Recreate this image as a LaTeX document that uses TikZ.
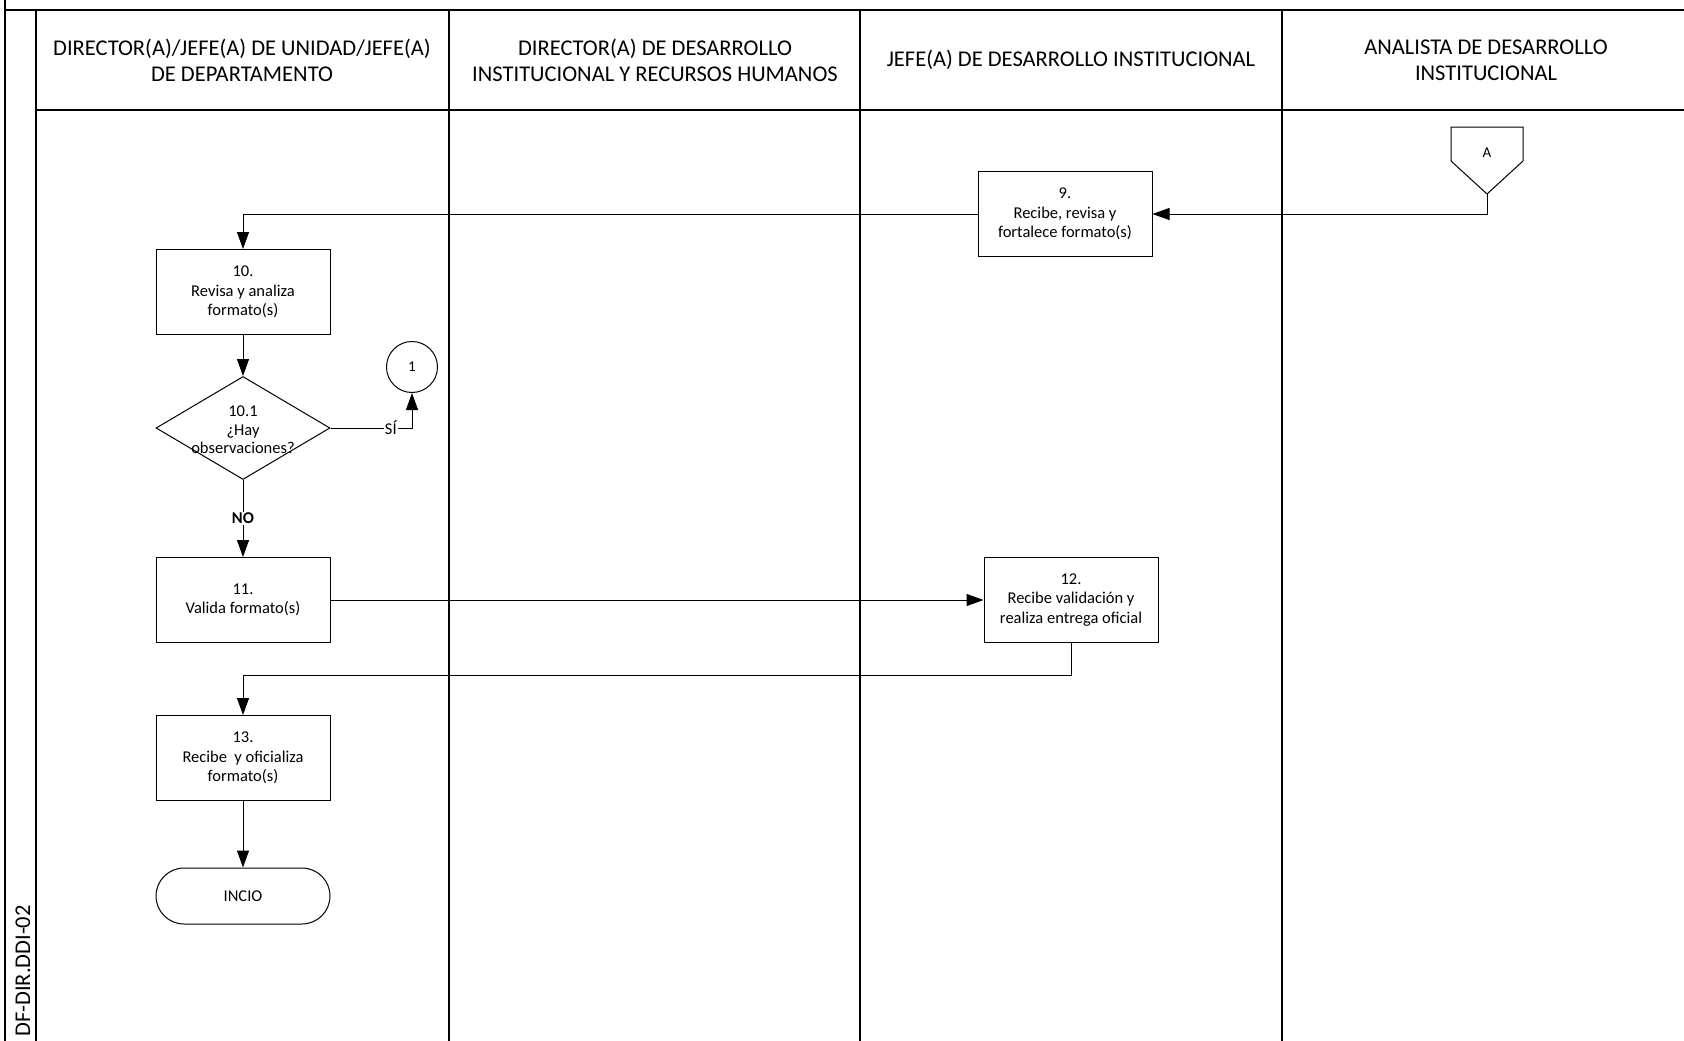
\documentclass[tikz,border=0pt]{standalone}
\usepackage{fontspec}
\setmainfont{Carlito}
\usetikzlibrary{arrows.meta,shapes.geometric,shapes.misc}

\begin{document}
\begin{tikzpicture}[x=1pt,y=-1pt,
  carril/.style={line width=1.4pt},
  encabezado/.style={align=center,font=\fontsize{22.5}{26}\selectfont},
  proceso/.style={draw,line width=1pt,minimum width=174pt,minimum height=85pt,inner sep=0pt,align=center,font=\fontsize{16.5}{19.5}\selectfont},
  decision/.style={draw,diamond,line width=1pt,minimum width=174pt,minimum height=103pt,inner sep=0pt},
  terminal/.style={draw,rounded rectangle,line width=1pt,minimum width=174pt,minimum height=56pt,inner sep=0pt,font=\fontsize{16.5}{18.5}\selectfont},
  conector/.style={draw,circle,line width=1pt,minimum size=51pt,inner sep=0pt,font=\fontsize{15}{18}\selectfont},
  etiqueta/.style={fill=white,inner sep=1pt,font=\fontsize{16.5}{18.5}\selectfont},
  flecha/.style={line width=1pt,-{Triangle[length=17pt,width=12pt]}}]

\useasboundingbox (0,0) rectangle (1684,1041);

% carriles
\draw[carril] (5,0) -- (5,1041);
\draw[carril] (5,10) -- (1684,10);
\draw[carril] (36,10) -- (36,1041);
\draw[carril] (36,110) -- (1684,110);
\foreach \x in {449,860,1282} \draw[carril] (\x,10) -- (\x,1041);

\node[encabezado] (h1) at (242,60) {DIRECTOR(A)/JEFE(A) DE UNIDAD/JEFE(A)\\DE DEPARTAMENTO};
\node[encabezado] (h2) at (655,60) {DIRECTOR(A) DE DESARROLLO\\INSTITUCIONAL Y RECURSOS HUMANOS};
\node[encabezado] (h3) at (1071,60) {JEFE(A) DE DESARROLLO INSTITUCIONAL};
\node[encabezado] (h4) at (1486,60) {ANALISTA DE DESARROLLO\\INSTITUCIONAL};
\node[rotate=90,font=\fontsize{22.5}{26}\selectfont] (clave) at (23,971) {DF-DIR.DDI-02};

% conector fuera de pagina
\draw[line width=1pt] (1451,127) -- (1523,127) -- (1523,161) -- (1487,194) -- (1451,161) -- cycle;
\node[font=\fontsize{15}{18}\selectfont] (A) at (1487,153) {A};
\coordinate (Apunta) at (1487,194);

% actividades
\node[proceso] (p9) at (1065,214) {9.\\Recibe, revisa y\\fortalece formato(s)};
\node[proceso] (p10) at (243,292) {10.\\Revisa y analiza\\formato(s)};
\node[decision] (d101) at (243,428) {};
\node[align=center,font=\fontsize{16.5}{18.5}\selectfont] (t101) at (243,430) {10.1\\¿Hay\\observaciones?};
\node[conector] (c1) at (412,367) {1};
\node[proceso] (p11) at (243,600) {11.\\Valida formato(s)};
\node[proceso] (p12) at (1071,600) {12.\\Recibe validación y\\realiza entrega oficial};
\node[proceso] (p13) at (243,758) {13.\\Recibe~ y oficializa\\formato(s)};
\node[terminal] (fin) at (243,896) {INCIO};
\coordinate (r12) at (1071,675);

% flujo
\draw[flecha] (Apunta) |- (p9);
\draw[flecha] (p9) -| (p10);
\draw[flecha] (p10) -- (d101);
\draw[flecha] (d101) -| node[etiqueta,pos=0.37] {SÍ} (c1);
\draw[flecha] (d101) -- node[etiqueta,font=\fontsize{16.5}{18.5}\selectfont\bfseries] {NO} (p11);
\draw[flecha] (p11) -- (p12);
\draw[flecha] (p12) -- (r12) -| (p13);
\draw[flecha] (p13) -- (fin);
\end{tikzpicture}
\end{document}
